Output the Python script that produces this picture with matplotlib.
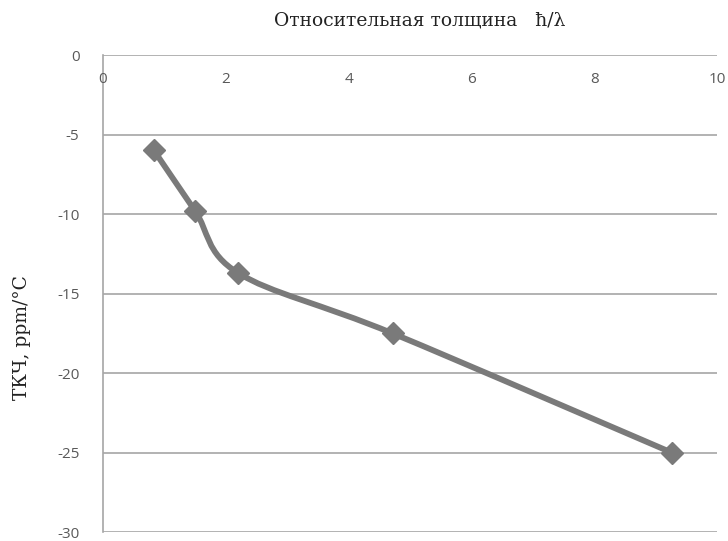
import numpy as np
import matplotlib.pyplot as plt
from matplotlib.path import Path
from matplotlib.patches import PathPatch

# данные
thickness = [0.83, 1.5, 2.2, 4.72, 9.27]   # h/lambda
tkf = [-6.0, -9.8, -13.7, -17.5, -25.0]   # ppm/C
x_ticks = [0, 2, 4, 6, 8, 10]
y_ticks = [0, -5, -10, -15, -20, -25, -30]

line_col = '#7a7a7a'
grid_col = '#a6a6a6'
txt_col = '#595959'


def smooth_path(xs, ys):
    # bezier like excel smoothed line (catmull-rom control points)
    pts = np.column_stack([xs, ys])
    n = len(pts)
    verts = [pts[0]]
    codes = [Path.MOVETO]
    for i in range(n - 1):
        p0 = pts[i - 1] if i > 0 else pts[i]
        p1 = pts[i]
        p2 = pts[i + 1]
        p3 = pts[i + 2] if i + 2 < n else pts[i + 1]
        c1 = p1 + (p2 - p0) / 6.0
        c2 = p2 - (p3 - p1) / 6.0
        verts += [c1, c2, p2]
        codes += [Path.CURVE4] * 3
    return Path(verts, codes)


fig = plt.figure(figsize=(7.28, 5.41), dpi=100)
ax = fig.add_axes([0.1415, 0.016, 0.8434, 0.8823])
ax.set_xlim(0, 10)
ax.set_ylim(-30, 0)

for s in ['right', 'bottom', 'top']:
    ax.spines[s].set_visible(False)
ax.spines['left'].set_color(grid_col)
ax.spines['left'].set_linewidth(1.2)

for yv in y_ticks:
    ax.axhline(yv, color=grid_col, lw=1.2, zorder=1)

patch = PathPatch(smooth_path(thickness, tkf), fill=False, edgecolor=line_col,
                  lw=4.2, capstyle='round', joinstyle='round', zorder=3)
ax.add_patch(patch)
ax.plot(thickness, tkf, ls='none', marker='D', ms=11, color=line_col, zorder=4)

ax.set_yticks(y_ticks)
ax.set_yticklabels([str(v) for v in y_ticks], fontsize=11, color=txt_col,
                   family='Open Sans')
ax.tick_params(axis='y', length=0, pad=17)
ax.set_xticks([])
for xv in x_ticks:
    ax.text(xv, -1.55, str(xv), ha='center', va='center', fontsize=11,
            color=txt_col, family='Open Sans')

fig.text(0.577, 0.962, 'Относительная толщина   ħ/λ', ha='center', va='center',
         fontsize=13.5, family='DejaVu Serif', color='#222222')
fig.text(0.030, 0.377, 'ТКЧ, ppm/°C', rotation=90, ha='center', va='center',
         fontsize=13.5, family='DejaVu Serif', color='#222222')

fig.savefig('out.png', dpi=100)
